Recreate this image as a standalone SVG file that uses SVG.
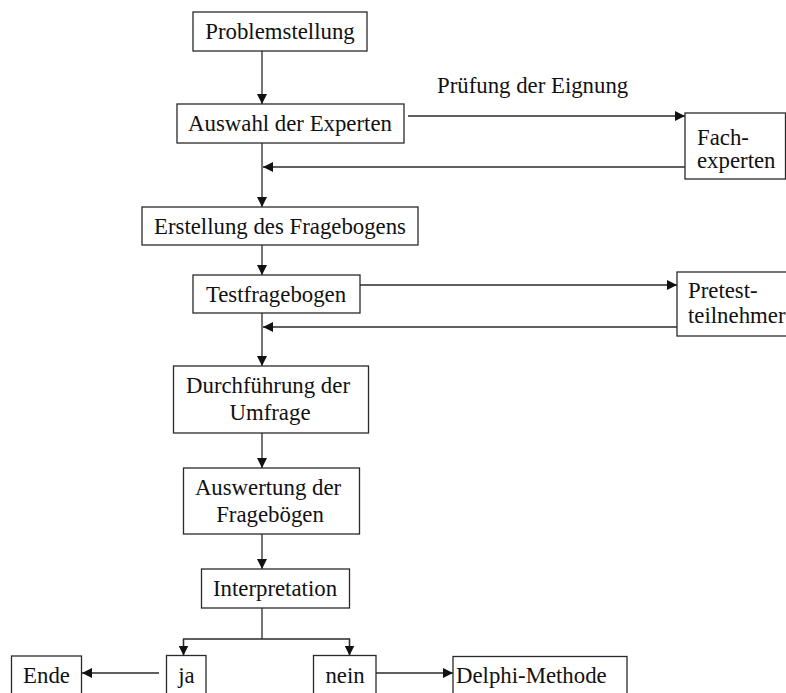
<svg xmlns="http://www.w3.org/2000/svg" width="786" height="693" viewBox="0 0 786 693">
  <style>
    .box { fill: #fff; stroke: #2a2a2a; stroke-width: 1.3; }
    .lbl { font-family: "Liberation Serif", "Times New Roman", serif; font-size: 22.8px; fill: #111; }
    .mid { text-anchor: middle; }
    .edge { fill: none; stroke: #2a2a2a; stroke-width: 1.3; }
  </style>
  <defs>
    <marker id="arrow" viewBox="0 0 10 10" refX="10" refY="5" markerWidth="10" markerHeight="10" markerUnits="userSpaceOnUse" orient="auto">
      <path d="M0,0 L10,5 L0,10 z" fill="#111"/>
    </marker>
  </defs>
  <rect width="786" height="693" fill="#fff"/>

  <g id="connectors">
    <line class="edge" x1="262" y1="51" x2="262" y2="104" marker-end="url(#arrow)"/>
    <line class="edge" x1="262" y1="143" x2="262" y2="207" marker-end="url(#arrow)"/>
    <line class="edge" x1="408" y1="116" x2="685" y2="116" marker-end="url(#arrow)"/>
    <line class="edge" x1="685" y1="167" x2="263" y2="167" marker-end="url(#arrow)"/>
    <line class="edge" x1="262" y1="245" x2="262" y2="275" marker-end="url(#arrow)"/>
    <line class="edge" x1="360" y1="285" x2="677" y2="285" marker-end="url(#arrow)"/>
    <line class="edge" x1="677" y1="327" x2="263" y2="327" marker-end="url(#arrow)"/>
    <line class="edge" x1="262" y1="313" x2="262" y2="366" marker-end="url(#arrow)"/>
    <line class="edge" x1="262" y1="433" x2="262" y2="468" marker-end="url(#arrow)"/>
    <line class="edge" x1="262" y1="534" x2="262" y2="569" marker-end="url(#arrow)"/>
    <polyline class="edge" points="262,608 262,639"/>
    <polyline class="edge" points="183.5,655 183.5,639 349.5,639 349.5,655" />
    <line class="edge" x1="183.5" y1="639" x2="183.5" y2="655.5" marker-end="url(#arrow)"/>
    <line class="edge" x1="349.5" y1="639" x2="349.5" y2="655.5" marker-end="url(#arrow)"/>
    <line class="edge" x1="159" y1="673" x2="82" y2="673" marker-end="url(#arrow)"/>
    <line class="edge" x1="376" y1="673" x2="453" y2="673" marker-end="url(#arrow)"/>
  </g>

  <g id="problemstellung">
    <rect class="box" x="193" y="12" width="174" height="39"/>
    <text class="lbl mid" x="280" y="39">Problemstellung</text>
  </g>

  <g id="auswahl">
    <rect class="box" x="177" y="104" width="227" height="39"/>
    <text class="lbl mid" x="290" y="131">Auswahl der Experten</text>
  </g>

  <g id="pruefung-label">
    <text class="lbl" x="437" y="93">Prüfung der Eignung</text>
  </g>

  <g id="fachexperten">
    <rect class="box" x="685" y="113" width="100.5" height="66"/>
    <text class="lbl" x="697" y="145">Fach-</text>
    <text class="lbl" x="697" y="168">experten</text>
  </g>

  <g id="erstellung">
    <rect class="box" x="142" y="207" width="276" height="38"/>
    <text class="lbl mid" x="280" y="234">Erstellung des Fragebogens</text>
  </g>

  <g id="testfragebogen">
    <rect class="box" x="193" y="275" width="167" height="38"/>
    <text class="lbl mid" x="276" y="302">Testfragebogen</text>
  </g>

  <g id="pretest">
    <rect class="box" x="677" y="272" width="120" height="64"/>
    <text class="lbl" x="688" y="298">Pretest-</text>
    <text class="lbl" x="688" y="323">teilnehmer</text>
  </g>

  <g id="durchfuehrung">
    <rect class="box" x="173.5" y="366" width="195" height="67"/>
    <text class="lbl mid" x="268" y="393">Durchführung der</text>
    <text class="lbl mid" x="270" y="420">Umfrage</text>
  </g>

  <g id="auswertung">
    <rect class="box" x="183.5" y="468" width="176" height="66"/>
    <text class="lbl mid" x="268" y="495">Auswertung der</text>
    <text class="lbl mid" x="270" y="522">Fragebögen</text>
  </g>

  <g id="interpretation">
    <rect class="box" x="201.5" y="569" width="148" height="39"/>
    <text class="lbl mid" x="275" y="596">Interpretation</text>
  </g>

  <g id="ende">
    <rect class="box" x="11.5" y="656" width="70" height="50"/>
    <text class="lbl mid" x="46.5" y="683">Ende</text>
  </g>

  <g id="ja">
    <rect class="box" x="166.5" y="655.5" width="39.5" height="50"/>
    <text class="lbl mid" x="186.5" y="683">ja</text>
  </g>

  <g id="nein">
    <rect class="box" x="313.5" y="655.5" width="62.5" height="50"/>
    <text class="lbl mid" x="345" y="683">nein</text>
  </g>

  <g id="delphi">
    <rect class="box" x="453" y="656.5" width="174" height="50"/>
    <text class="lbl" x="456" y="683">Delphi-Methode</text>
  </g>
</svg>
